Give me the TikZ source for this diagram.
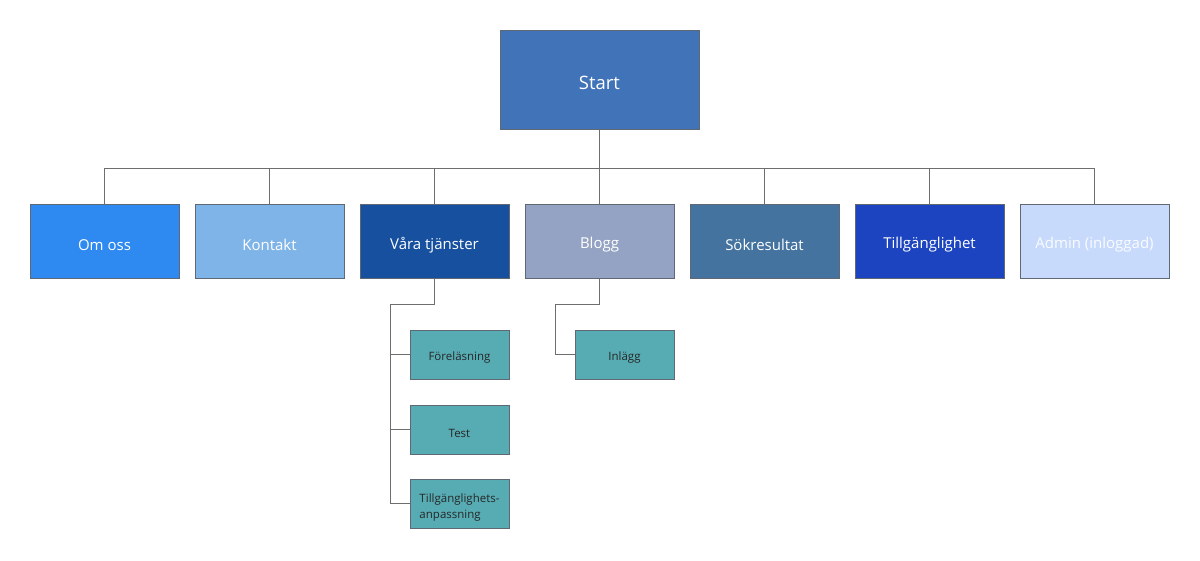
\documentclass[tikz,border=0pt]{standalone}
\usepackage{fontspec}
\setmainfont{Open Sans}
\definecolor{cStart}{HTML}{4073B8}
\definecolor{cOm}{HTML}{2E8AF0}
\definecolor{cKon}{HTML}{7FB4E8}
\definecolor{cVar}{HTML}{16509E}
\definecolor{cBlo}{HTML}{94A3C3}
\definecolor{cSok}{HTML}{44739F}
\definecolor{cTil}{HTML}{1C44C0}
\definecolor{cAdm}{HTML}{C7DAFC}
\definecolor{cSub}{HTML}{57ACB4}
\definecolor{cBorder}{HTML}{5F6873}
\definecolor{cLine}{HTML}{6E6E6E}
\newcommand\dn[1]{\raisebox{-3.5pt}[\height][\depth]{#1}}
\begin{document}
\begin{tikzpicture}[x=1pt,y=-1pt,
  box/.style={draw=cBorder,line width=1pt,inner sep=0pt,anchor=center,text=white,align=center},
  topbox/.style={box,minimum width=149pt,minimum height=74pt,font=\fontsize{15}{18}\selectfont},
  subbox/.style={box,minimum width=99pt,minimum height=49pt,fill=cSub,text=black!85,font=\fontsize{11.5}{16}\selectfont},
  conn/.style={draw=cLine,line width=1pt}]
\useasboundingbox (0,0) rectangle (1200,560);
\node[box,minimum width=199pt,minimum height=99pt,fill=cStart,font=\fontsize{18.5}{22}\selectfont] (start) at (599.5,79.5) {\dn{Start}};
\node[topbox,fill=cOm] (om) at (104.5,241.5) {\dn{Om oss}};
\node[topbox,fill=cKon] (kon) at (269.5,241.5) {\dn{Kontakt}};
\node[topbox,fill=cVar] (var) at (434.5,241.5) {\dn{Våra tjänster}};
\node[topbox,fill=cBlo] (blo) at (599.5,241.5) {\dn{Blogg}};
\node[topbox,fill=cSok] (sok) at (764.5,241.5) {\dn{Sökresultat}};
\node[topbox,fill=cTil] (til) at (929.5,241.5) {\dn{Tillgänglighet}};
\node[topbox,fill=cAdm,text=white!92!cAdm] (adm) at (1094.5,241.5) {\dn{Admin (inloggad)}};
\node[subbox] (fore) at (459.5,354.5) {\dn{Föreläsning}};
\node[subbox] (test) at (459.5,429.5) {\dn{Test}};
\node[subbox] (tanp) at (459.5,503.5) {\dn{\begin{tabular}{@{}l@{}}Tillgänglighets-\\anpassning\end{tabular}}};
\node[subbox] (inl) at (624.5,354.5) {\dn{Inlägg}};
\coordinate (bus) at (599.5,168);
\foreach \n in {om,kon,var,blo,sok,til,adm}{
  \draw[conn] (start.south) |- (bus) -| (\n.north);
}
\coordinate (vj) at (434.5,304.5);
\coordinate (vx) at (390.5,304.5);
\draw[conn] (var.south) -- (vj) -- (vx) |- (tanp.west);
\draw[conn] (vx) |- (fore.west);
\draw[conn] (vx) |- (test.west);
\coordinate (bj) at (599.5,304.5);
\coordinate (bx) at (555.5,304.5);
\draw[conn] (blo.south) -- (bj) -- (bx) |- (inl.west);
\end{tikzpicture}
\end{document}
